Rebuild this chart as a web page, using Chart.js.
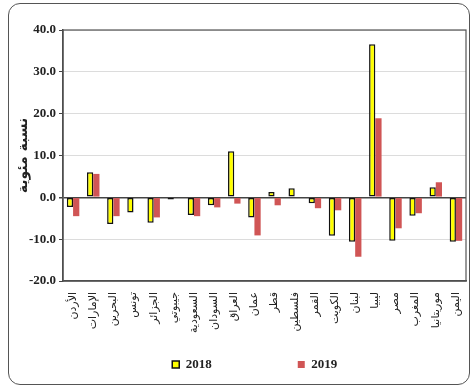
<!DOCTYPE html>
<html>
<head>
<meta charset="utf-8">
<script src="https://cdn.jsdelivr.net/npm/chart.js@4"></script>
<style>
  html, body { margin: 0; padding: 0; background: #fff; }
  #wrap { position: relative; width: 474px; height: 388px; }
  #frame {
    position: absolute; left: 8px; top: 3px; width: 460px; height: 380px;
    border: 1.5px solid #555; border-radius: 12px; pointer-events: none;
  }
</style>
</head>
<body>
<div id="wrap">
  <canvas id="chart-1" width="474" height="388"></canvas>
  <div id="frame"></div>
</div>
<script>
const categories = ["الأردن", "الإمارات", "البحرين", "تونس", "الجزائر", "جيبوتي", "السعودية", "السودان", "العراق", "عمان",
  "قطر", "فلسطين", "القمر", "الكويت", "لبنان", "ليبيا", "مصر", "المغرب", "موريتانيا", "اليمن"];
const values_2018 = [-2.3, 6.0, -6.4, -3.6, -6.1, -0.5, -4.2, -1.9, 11.0, -4.8, 1.3, 2.2, -1.4, -9.2, -10.6, 36.6, -10.4, -4.4, 2.4, -10.6];
const values_2019 = [-4.5, 5.6, -4.5, null, -4.8, null, -4.5, -2.4, -1.5, -9.1, -1.9, null, -2.6, -3.1, -14.2, 18.9, -7.4, -3.8, 3.6, -10.4];
const series_labels = ["2018", "2019"];

const serif = "'Liberation Serif', 'Times New Roman', serif";

// frame around the plot area
const plotBorder = {
  id: "plotBorder",
  afterDraw(chart) {
    const a = chart.chartArea;
    const c = chart.ctx;
    c.save();
    c.strokeStyle = "#555";
    c.lineWidth = 1.2;
    c.strokeRect(a.left, a.top, a.right - a.left, a.bottom - a.top);
    c.restore();
  },
};

new Chart(document.getElementById("chart-1"), {
  type: "bar",
  data: {
    labels: categories,
    datasets: [
      {
        label: series_labels[0],
        data: values_2018,
        backgroundColor: "#FFFF00",
        borderColor: "#111",
        borderWidth: 1.5,
        borderSkipped: false,
      },
      {
        label: series_labels[1],
        data: values_2019,
        backgroundColor: "#D05555",
        borderWidth: 0,
      },
    ],
  },
  plugins: [plotBorder],
  options: {
    responsive: false,
    animation: false,
    categoryPercentage: 0.62,
    barPercentage: 1.0,
    layout: { padding: { left: 14, right: 8, top: 30, bottom: 7 } },
    scales: {
      x: {
        grid: { display: false },
        border: { display: true, color: "#444", width: 1.5 },
        ticks: {
          autoSkip: false,
          minRotation: 90,
          maxRotation: 90,
          color: "#222",
          padding: 3,
          font: { family: "'DejaVu Sans', sans-serif", size: 11 },
        },
        afterFit: function (scale) {
          scale.height = 69;
        },
      },
      y: {
        min: -20,
        max: 40,
        ticks: {
          stepSize: 10,
          color: "#222",
          padding: 3,
          font: { family: serif, size: 13, weight: "bold" },
          callback: function (v) {
            return v.toFixed(1);
          },
        },
        grid: {
          color: function (ctx) {
            return ctx.tick && ctx.tick.value === 0 ? "#444" : "#DCDCDC";
          },
          lineWidth: function (ctx) {
            return ctx.tick && ctx.tick.value === 0 ? 1.5 : 1;
          },
          tickColor: "#444",
          tickLength: 4,
        },
        border: { display: true, color: "#444", width: 1.5 },
        title: {
          display: true,
          text: "نسبة مئوية",
          color: "#222",
          padding: 1,
          font: { family: "'DejaVu Sans', sans-serif", size: 14, weight: "bold" },
        },
        afterFit: function (scale) {
          scale.width = 49;
        },
      },
    },
    plugins: {
      tooltip: { enabled: false },
      legend: {
        display: true,
        position: "bottom",
        fullSize: false,
        labels: {
          boxWidth: 7,
          boxHeight: 7,
          padding: 8,
          color: "#222",
          font: { family: serif, size: 13, weight: "bold" },
          generateLabels: function (chart) {
            const items = Chart.defaults.plugins.legend.labels.generateLabels(chart);
            items.forEach(function (it, i) {
              it.text = it.text + (i === 0 ? "                        " : "      ");
            });
            return items;
          },
        },
      },
    },
  },
});
</script>
</body>
</html>
